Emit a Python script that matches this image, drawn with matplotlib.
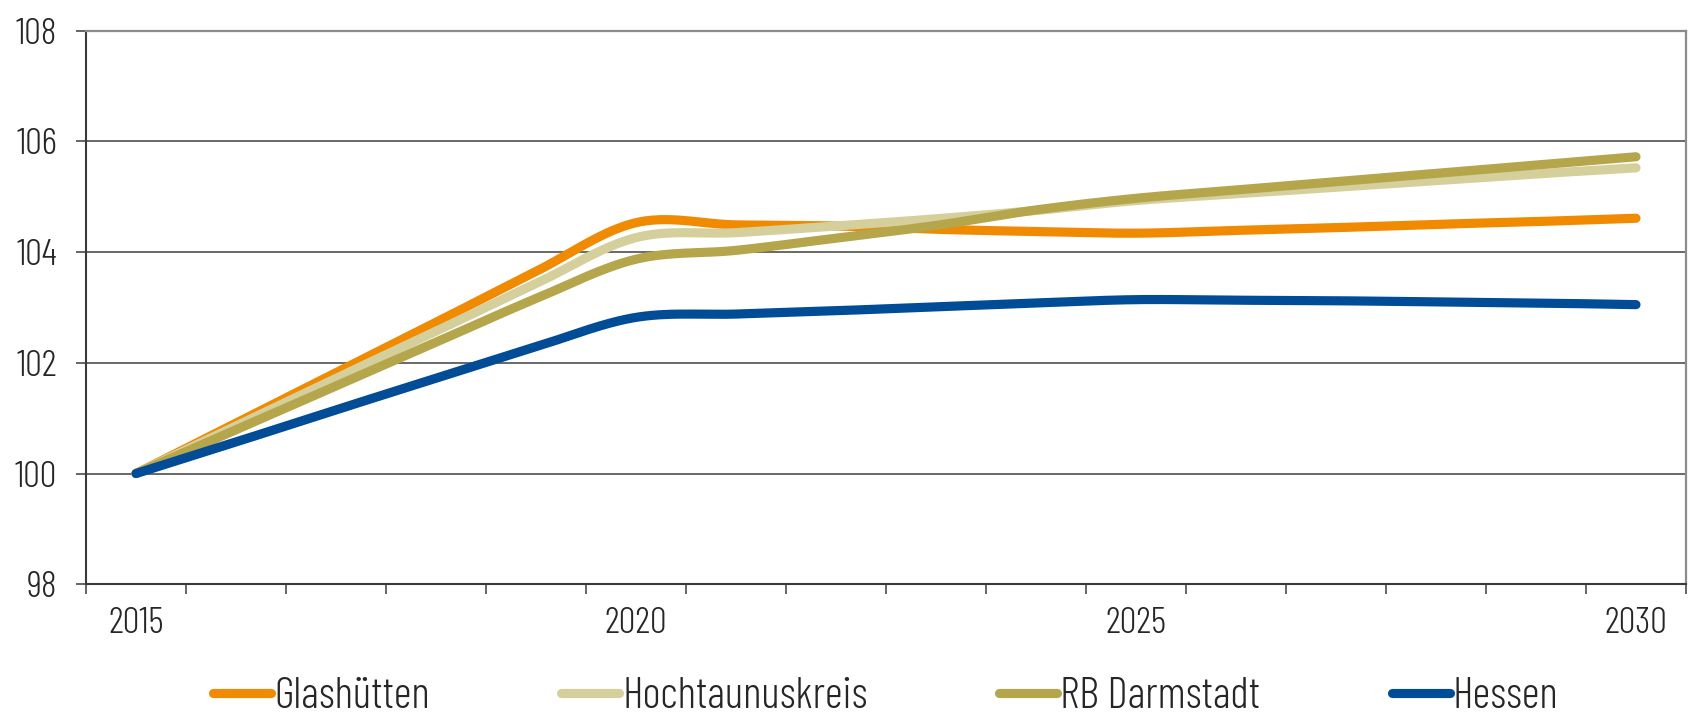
import numpy as np
import matplotlib
matplotlib.use("Agg")
import matplotlib.pyplot as plt
from matplotlib.ticker import FixedLocator

plt.rcParams['font.family'] = ['Barlow Condensed', 'DejaVu Sans']
plt.rcParams['font.weight'] = 300

# ---- data ----
years = [2015, 2016, 2017, 2018, 2019, 2020, 2021, 2022,
         2023, 2024, 2025, 2026, 2027, 2028, 2029, 2030]
glashuetten = [100.00, 100.91, 101.82, 102.73, 103.65, 104.53, 104.49, 104.47,
               104.41, 104.37, 104.34, 104.39, 104.44, 104.50, 104.55, 104.61]
hochtaunus = [100.00, 100.86, 101.72, 102.57, 103.43, 104.26, 104.35, 104.47,
              104.60, 104.75, 104.93, 105.05, 105.17, 105.29, 105.41, 105.52]
rb_darmstadt = [100.00, 100.79, 101.58, 102.37, 103.16, 103.87, 104.03, 104.25,
                104.48, 104.76, 104.97, 105.12, 105.27, 105.42, 105.57, 105.72]
hessen = [100.00, 100.57, 101.15, 101.72, 102.29, 102.82, 102.88, 102.94,
          103.01, 103.08, 103.14, 103.13, 103.12, 103.10, 103.08, 103.05]

series_names = ["Glashütten", "Hochtaunuskreis", "RB Darmstadt", "Hessen"]
series_values = [glashuetten, hochtaunus, rb_darmstadt, hessen]
series_colors = ["#F08A00", "#D5CF9C", "#B5A64C", "#004C97"]

y_ticks = [98, 100, 102, 104, 106, 108]
x_labels = [2015, 2020, 2025, 2030]


def smooth(xs, ys, n=30):
    """Excel-style smoothed line (Catmull-Rom Bezier) through the data points."""
    xs = np.asarray(xs, float)
    ys = np.asarray(ys, float)
    px, py = [], []
    m = len(xs)
    for i in range(m - 1):
        x0, y0 = (xs[i - 1], ys[i - 1]) if i > 0 else (xs[i], ys[i])
        x1, y1 = xs[i], ys[i]
        x2, y2 = xs[i + 1], ys[i + 1]
        x3, y3 = (xs[i + 2], ys[i + 2]) if i + 2 < m else (xs[i + 1], ys[i + 1])
        c1x, c1y = x1 + (x2 - x0) / 6, y1 + (y2 - y0) / 6
        c2x, c2y = x2 - (x3 - x1) / 6, y2 - (y3 - y1) / 6
        t = np.linspace(0, 1, n, endpoint=(i == m - 2))
        b0 = (1 - t) ** 3
        b1 = 3 * (1 - t) ** 2 * t
        b2 = 3 * (1 - t) * t ** 2
        b3 = t ** 3
        px.append(b0 * x1 + b1 * c1x + b2 * c2x + b3 * x2)
        py.append(b0 * y1 + b1 * c1y + b2 * c2y + b3 * y2)
    return np.concatenate(px), np.concatenate(py)


fig = plt.figure(figsize=(16.9, 7.15), dpi=100)
ax = fig.add_axes([86 / 1690, 130.7 / 715, 1600 / 1690, 553.8 / 715])

for name, vals, col in zip(series_names, series_values, series_colors):
    sx, sy = smooth(years, vals)
    ax.plot(sx, sy, color=col, lw=6.6, solid_capstyle='round',
            solid_joinstyle='round', label=name, zorder=3)

ax.set_xlim(years[0] - 0.5, years[-1] + 0.5)
ax.set_ylim(y_ticks[0], y_ticks[-1])

ax.set_yticks(y_ticks)
ax.set_yticklabels([str(v) for v in y_ticks])
ax.set_xticks(x_labels)
ax.set_xticklabels([str(v) for v in x_labels])
ax.xaxis.set_minor_locator(FixedLocator(np.arange(years[0] - 0.5, years[-1] + 0.51, 1.0)))

text_col = '#262626'
ax.tick_params(axis='x', which='major', length=0, pad=16, labelsize=27, labelcolor=text_col)
ax.tick_params(axis='x', which='minor', length=7.2, width=1.1, color='#3a3a3a', direction='out')
ax.tick_params(axis='y', which='major', length=7.2, width=1.1, color='#3a3a3a',
               direction='out', pad=13.5, labelsize=27, labelcolor=text_col)

for yv in y_ticks[1:-1]:
    ax.axhline(yv, color='#404040', lw=1.1, zorder=1)

for s in ['left', 'bottom']:
    ax.spines[s].set_color('#3a3a3a')
    ax.spines[s].set_linewidth(1.5)
for s in ['top', 'right']:
    ax.spines[s].set_color('#8c8c8c')
    ax.spines[s].set_linewidth(1.6)

leg = fig.legend(loc='center left', bbox_to_anchor=(213 / 1690, 1 - 697 / 715),
                 ncol=4, frameon=False, fontsize=31.5, handlelength=1.33,
                 handletextpad=0.07, columnspacing=3.0, borderpad=0,
                 borderaxespad=0)
for t in leg.get_texts():
    t.set_color(text_col)

fig.savefig('out.png', dpi=100)
